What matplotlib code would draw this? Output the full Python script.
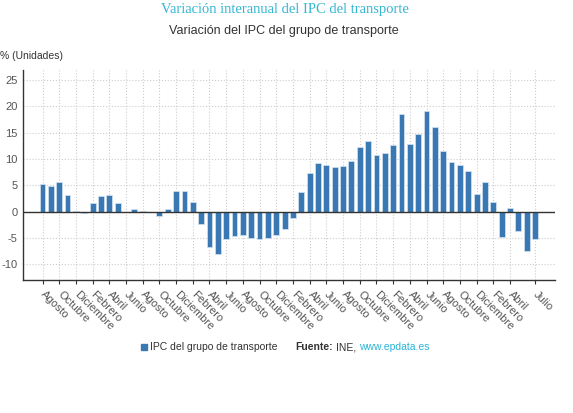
import numpy as np
import matplotlib.pyplot as plt

plt.rcParams['font.family'] = 'Liberation Sans'
plt.rcParams['axes.unicode_minus'] = False

# Variación interanual IPC transporte, agosto -> julio (60 meses)
meses = ['Agosto', 'Septiembre', 'Octubre', 'Noviembre', 'Diciembre', 'Enero',
         'Febrero', 'Marzo', 'Abril', 'Mayo', 'Junio', 'Julio']
valores = [5.2, 4.9, 5.6, 3.2, 0.2, -0.3, 1.7, 2.9, 3.1, 1.6,
           0.0, 0.4, 0.1, 0.0, -0.8, 0.4, 3.9, 3.9, 1.8, -2.4,
           -6.8, -8.0, -5.3, -4.6, -4.4, -5.1, -5.2, -5.1, -4.4, -3.3,
           -1.3, 3.8, 7.3, 9.3, 8.8, 8.4, 8.7, 9.7, 12.2, 13.4,
           10.8, 11.2, 12.7, 18.5, 12.8, 14.8, 19.1, 16.1, 11.6, 9.4,
           8.9, 7.7, 3.4, 5.6, 1.9, -4.8, 0.6, -3.6, -7.5, -5.2]
etiquetas = [meses[i % 12] for i in range(len(valores))]
tick_idx = list(range(0, 57, 2)) + [59]

fig = plt.figure(figsize=(5.73, 4.13), dpi=100)
ax = fig.add_axes([0.0407, 0.322, 0.928, 0.5085])

x = np.arange(len(valores))
ax.bar(x, valores, width=0.7, color='#3a78b4', edgecolor='#d6e4f0', linewidth=0.5, zorder=3)
ax.axhline(0, color='#333333', linewidth=1, zorder=4)

ax.set_xlim(-2.3, 61.4)
ax.set_ylim(-13, 26.9)
ax.set_yticks(range(-10, 26, 5))
ax.set_xticks(tick_idx)
ax.set_xticklabels([etiquetas[i] for i in tick_idx], rotation=-45, ha='left',
                   va='center', rotation_mode='anchor', fontsize=8, color='#555555')
ax.tick_params(axis='x', length=3, color='#333333', pad=6)
ax.tick_params(axis='y', length=0, labelsize=8, labelcolor='#555555', pad=4)

ax.grid(True, linestyle=':', color='#cccccc', linewidth=0.8, zorder=0)
for s in ['top', 'right']:
    ax.spines[s].set_visible(False)
for s in ['left', 'bottom']:
    ax.spines[s].set_color('#333333')
    ax.spines[s].set_linewidth(1)

fig.text(0.497, 0.978, 'Variación interanual del IPC del transporte', ha='center', va='center',
         family='Liberation Serif', fontsize=10.5, color='#35b6d4')
fig.text(0.496, 0.924, 'Variación del IPC del grupo de transporte', ha='center', va='center',
         fontsize=9, color='#333333')
fig.text(0.0, 0.864, '% (Unidades)', ha='left', va='center', fontsize=7.5, color='#333333')

# leyenda + fuente
fig.patches.append(plt.Rectangle((0.246, 0.152), 0.011, 0.015, transform=fig.transFigure,
                                 color='#3a78b4', figure=fig))
fig.text(0.262, 0.159, 'IPC del grupo de transporte', ha='left', va='center',
         fontsize=7.5, color='#333333')

partes = [('Fuente:', 'bold', '#333333'), ('INE,', 'normal', '#333333'),
          ('www.epdata.es', 'normal', '#2ab5d6')]
renderer = fig.canvas.get_renderer()
xpos = 0.516 * fig.bbox.width
for txt, peso, col in partes:
    t = fig.text(xpos / fig.bbox.width, 0.159, txt, ha='left', va='center',
                 weight=peso, fontsize=7.5, color=col)
    xpos = t.get_window_extent(renderer).x1 + 3

fig.savefig('out.png', dpi=100)
